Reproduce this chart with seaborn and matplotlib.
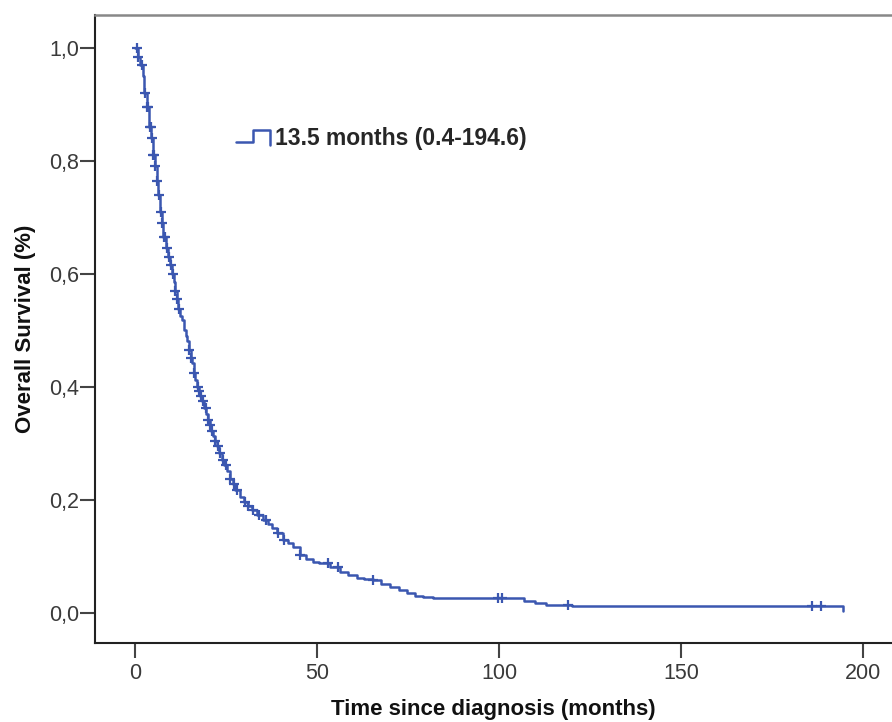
import matplotlib
matplotlib.use("Agg")
import matplotlib.pyplot as plt
from matplotlib.legend_handler import HandlerBase
from matplotlib.lines import Line2D
import numpy as np
import pandas as pd
import seaborn as sns

# Kaplan-Meier step curve (months, survival proportion)
step_times = [0, 0.8, 1.5, 2.2, 2.6, 3.3, 3.8, 4.4, 4.9, 5.5, 6.0, 6.4, 6.9, 7.3, 7.7,
              8.4, 9.1, 9.6, 10.2, 10.6, 11.0, 11.4, 11.8, 12.4, 12.9, 13.5, 14.0,
              14.3, 14.8, 15.3, 15.7, 16.1, 16.5, 17.0, 17.5, 17.9, 18.4, 19.0, 19.5,
              20.0, 20.5, 21.0, 21.5, 22.0, 22.6, 23.2, 23.9, 24.5, 25.2, 26.1, 26.8,
              27.5, 28.8, 30.0, 31.0, 32.1, 33.5, 35.2, 36.5, 37.5, 39.0, 40.7, 42.0,
              43.5, 45.3, 47.0, 49.0, 50.5, 53.6, 56.3, 58.5, 61.0, 63.0, 65.4, 67.5,
              70.0, 72.5, 74.7, 77.0, 79.0, 81.9, 107.0, 110.0, 113.0, 120.0, 194.6]
step_surv = [1.0, 0.984, 0.97, 0.95, 0.92, 0.895, 0.86, 0.84, 0.81, 0.79, 0.765, 0.74,
             0.71, 0.69, 0.665, 0.645, 0.63, 0.615, 0.60, 0.585, 0.57, 0.555, 0.538,
             0.525, 0.518, 0.500, 0.49, 0.482, 0.465, 0.452, 0.442, 0.425, 0.412,
             0.40, 0.392, 0.384, 0.375, 0.362, 0.352, 0.342, 0.332, 0.322, 0.313,
             0.305, 0.295, 0.283, 0.271, 0.262, 0.252, 0.238, 0.228, 0.218, 0.205,
             0.196, 0.189, 0.182, 0.174, 0.165, 0.157, 0.150, 0.142, 0.130, 0.124,
             0.116, 0.103, 0.096, 0.091, 0.088, 0.081, 0.073, 0.067, 0.062, 0.060,
             0.058, 0.052, 0.046, 0.040, 0.035, 0.031, 0.028, 0.026, 0.022, 0.017,
             0.015, 0.013, 0.003]

# Censored observations (months)
censor_times = [0.5, 0.9, 2.0, 2.7, 3.4, 3.7, 4.0, 4.3, 4.6, 5.0, 5.3, 5.6, 6.1, 6.5,
                7.0, 7.4, 7.9, 8.3, 8.8, 9.4, 9.8, 10.3, 11.1, 11.6, 12.2, 14.9, 15.5,
                16.3, 17.2, 17.6, 18.2, 18.8, 19.4, 20.1, 20.6, 21.2, 22.1, 22.7, 23.3,
                24.2, 25.0, 26.2, 27.2, 28.1, 30.1, 31.1, 32.5, 34.0, 36.0, 39.3, 40.8,
                45.4, 53.0, 55.8, 65.5, 99.7, 100.8, 119.0, 186.0, 188.5]

legend_label = "13.5 months (0.4-194.6)"
x_ticks = [0, 50, 100, 150, 200]
y_ticks = [0.0, 0.2, 0.4, 0.6, 0.8, 1.0]
y_tick_labels = ["0,0", "0,2", "0,4", "0,6", "0,8", "1,0"]

sns.set_style("white")
plt.rcParams["font.family"] = ["Liberation Sans", "DejaVu Sans"]

color = "#3b57b0"

curve = pd.DataFrame({"time": step_times, "surv": step_surv})
st = np.array(step_times)
ss = np.array(step_surv)
idx = np.searchsorted(st, np.array(censor_times), side="right") - 1
censor = pd.DataFrame({"time": censor_times, "surv": ss[idx]})

fig = plt.figure(figsize=(8.92, 7.22), dpi=100)
ax = fig.add_axes([95 / 892, 79 / 722, 797 / 892, 628 / 722])

sns.lineplot(data=curve, x="time", y="surv", drawstyle="steps-post", color=color,
             linewidth=1.8, ax=ax, legend=False, estimator=None)
sns.scatterplot(data=censor, x="time", y="surv", marker="+", color=color, s=45,
                linewidth=1.6, ax=ax, legend=False, zorder=3)

ax.set_xlim(-11, 208)
ax.set_ylim(-0.053, 1.058)
ax.set_xticks(x_ticks)
ax.set_yticks(y_ticks)
ax.set_yticklabels(y_tick_labels)
ax.tick_params(axis="both", direction="out", length=10.5, width=1.5, color="#444444",
               labelsize=15.5, labelcolor="#3a3a3a", bottom=True, left=True)
ax.tick_params(axis="x", pad=4)
ax.tick_params(axis="y", pad=1)
ax.set_xlabel("Time since diagnosis (months)", fontsize=16, fontweight="bold",
              color="#111111", labelpad=11)
ax.set_ylabel("Overall Survival (%)", fontsize=16, fontweight="bold",
              color="#111111", labelpad=9)
for side in ["left", "bottom"]:
    ax.spines[side].set_color("#222222")
    ax.spines[side].set_linewidth(1.5)
ax.spines["top"].set_color("#888888")
ax.spines["top"].set_linewidth(1.8)
ax.spines["right"].set_visible(False)


class StepHandler(HandlerBase):
    def create_artists(self, legend, orig_handle, xdescent, ydescent, width, height,
                       fontsize, trans):
        w, h = width, height
        x0 = -xdescent
        y0 = -ydescent
        xs = [x0, x0 + 0.5 * w, x0 + 0.5 * w, x0 + w, x0 + w]
        ys = [y0 + 0.2 * h, y0 + 0.2 * h, y0 + 0.95 * h, y0 + 0.95 * h, y0 + 0.05 * h]
        line = Line2D(xs, ys, color=orig_handle.get_color(), linewidth=1.8,
                      transform=trans)
        return [line]


handle = Line2D([], [], color=color)
ax.legend([handle], [legend_label], handler_map={Line2D: StepHandler()},
          loc="center left", bbox_to_anchor=(236 / 892, 1 - 139 / 722),
          bbox_transform=fig.transFigure, frameon=False, borderpad=0,
          borderaxespad=0, handlelength=1.5, handletextpad=0.22,
          prop={"weight": "bold", "size": 16.5})

fig.savefig("out.png", dpi=100)
